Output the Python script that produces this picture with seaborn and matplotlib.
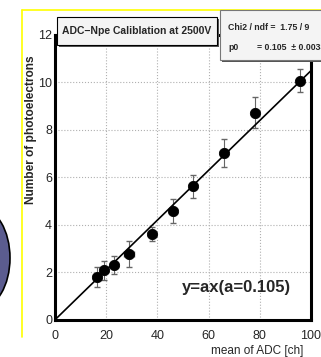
import numpy as np
import pandas as pd
import seaborn as sns
import matplotlib.pyplot as plt
from matplotlib.patches import Ellipse, Rectangle
from matplotlib.ticker import MultipleLocator

# ADC-Npe calibration points
adc_mean = [16.5, 19.2, 23.1, 29.0, 38.0, 46.0, 53.8, 66.0, 78.3, 95.7]
adc_err = [1.5, 1.5, 1.5, 2.0, 1.5, 1.5, 1.0, 1.0, 1.0, 1.0]
npe = [1.8, 2.08, 2.3, 2.78, 3.62, 4.6, 5.62, 7.02, 8.72, 10.08]
npe_err = [0.42, 0.4, 0.38, 0.55, 0.3, 0.5, 0.5, 0.58, 0.65, 0.5]
slope = 0.105
fit_x = [0, 100]

df = pd.DataFrame({'adc': adc_mean, 'npe': npe})
fit = pd.DataFrame({'adc': fit_x, 'npe': [slope * v for v in fit_x]})

sns.set_style('white')
plt.rcParams['font.family'] = ['Liberation Sans', 'DejaVu Sans']

fig = plt.figure(figsize=(3.21, 3.57), dpi=100)
ax = fig.add_axes([0.171, 0.104, 0.798, 0.798])

ax.grid(True, color='#b0b0b0', linestyle=':', linewidth=0.8)
sns.lineplot(data=fit, x='adc', y='npe', color='black', linewidth=1.2, ax=ax, zorder=3)
ax.errorbar(adc_mean, npe, xerr=adc_err, yerr=npe_err, fmt='none',
            ecolor='#666666', elinewidth=0.8, capsize=2, zorder=2)
sns.scatterplot(data=df, x='adc', y='npe', color='black', s=55, edgecolor='black',
                ax=ax, zorder=4)

ax.set_xlim(0, 100)
ax.set_ylim(0, 12)
ax.xaxis.set_major_locator(MultipleLocator(20))
ax.xaxis.set_minor_locator(MultipleLocator(4))
ax.yaxis.set_major_locator(MultipleLocator(2))
ax.yaxis.set_minor_locator(MultipleLocator(0.5))
ax.tick_params(which='both', direction='in', top=False, right=False, color='black')
ax.tick_params(which='major', length=6, width=0.8, labelsize=9)
ax.tick_params(axis='x', which='major', pad=7)
ax.tick_params(axis='y', which='major', pad=2)
ax.tick_params(which='minor', length=3, width=0.8)
for s in ax.spines.values():
    s.set_linewidth(2.2)
    s.set_color('black')

ax.set_xlabel('mean of ADC [ch]', fontsize=8.5)
ax.xaxis.set_label_coords(0.969, -0.119)
ax.xaxis.label.set_horizontalalignment('right')
ax.xaxis.label.set_verticalalignment('baseline')
ax.set_ylabel('Number of photoelectrons', fontsize=8.6, fontweight='bold')
ax.yaxis.set_label_coords(-0.094, 0.667)
ax.yaxis.label.set_verticalalignment('center')

ax.text(0.92, 0.115, 'y=ax(a=0.105)', transform=ax.transAxes, fontsize=12,
        fontweight='bold', ha='right', va='center', zorder=5)

# title box
fig.patches.append(Rectangle((59 / 321, 1 - 47 / 357), 160 / 321, 28 / 357,
                             transform=fig.transFigure, facecolor='#555555',
                             edgecolor='none', zorder=5))
fig.patches.append(Rectangle((57 / 321, 1 - 45 / 357), 160 / 321, 28 / 357,
                             transform=fig.transFigure, facecolor='#f4f4f4',
                             edgecolor='black', linewidth=0.8, zorder=6))
fig.text(137 / 321, 1 - 31 / 357, 'ADC\u2212Npe Caliblation at 2500V', fontsize=7.5,
         fontweight='bold', ha='center', va='center', zorder=7)

# stats box (runs off the right edge, as in the original)
fig.patches.append(Rectangle((222 / 321, 1 - 62 / 357), 110 / 321, 50 / 357,
                             transform=fig.transFigure, facecolor='#555555',
                             edgecolor='none', zorder=5))
fig.patches.append(Rectangle((220 / 321, 1 - 60 / 357), 110 / 321, 50 / 357,
                             transform=fig.transFigure, facecolor='#f4f4f4',
                             edgecolor='#777777', linewidth=0.8, zorder=6))
fig.text(228 / 321, 1 - 27 / 357, 'Chi2 / ndf =  1.75 / 9', fontsize=6.3, fontweight='bold',
         va='center', zorder=7)
fig.text(228 / 321, 1 - 48 / 357, 'p0', fontsize=6.3, fontweight='bold', va='center', zorder=7)
fig.text(257 / 321, 1 - 48 / 357, '= 0.105  \u00b1 0.0033', fontsize=6.3, fontweight='bold',
         va='center', zorder=7)

# yellow frame lines and slide decoration
fig.add_artist(plt.Line2D([22 / 321, 1], [1 - 10 / 357, 1 - 10 / 357],
                          transform=fig.transFigure, color='#ffff00', linewidth=1.2))
fig.add_artist(plt.Line2D([22 / 321, 22 / 321], [1 - 10 / 357, 1 - 337 / 357],
                          transform=fig.transFigure, color='#ffff00', linewidth=1.2))
fig.patches.append(Ellipse((-20 / 321, 1 - 258 / 357), 60 / 321, 100 / 357,
                           transform=fig.transFigure, facecolor='#5b5c8f',
                           edgecolor='black', linewidth=1.2))

fig.savefig('out.png', dpi=100)
